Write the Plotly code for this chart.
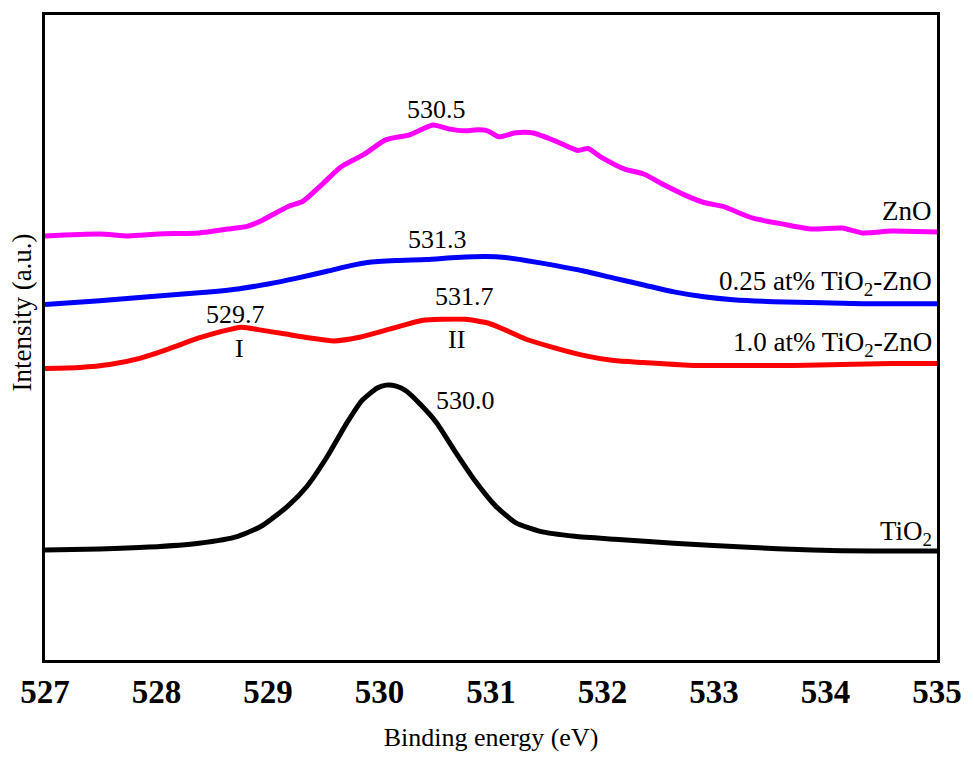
import plotly.graph_objects as go

# O 1s XPS spectra (binding energy in eV, intensity in arbitrary units)
zno_energy = [527.00, 527.49, 527.75, 528.02, 528.38, 528.64, 528.82, 528.95, 529.18, 529.31,
              529.49, 529.65, 529.86, 530.06, 530.27, 530.48, 530.62, 530.77, 530.88, 530.97,
              531.07, 531.22, 531.37, 531.57, 531.78, 531.87, 531.99, 532.20, 532.37, 532.55,
              532.73, 532.91, 533.08, 533.35, 533.62, 533.88, 534.15, 534.33, 534.59, 535.00]
zno_intensity = [432, 434, 432, 434, 435, 439, 442, 448, 462, 467,
                 485, 502, 515, 530, 535, 545, 541, 539, 540, 539,
                 533, 537, 537, 529, 519, 521, 512, 500, 495, 484,
                 474, 466, 462, 450, 444, 439, 440, 435, 437, 436]

tz025_energy = [527.00, 527.49, 527.93, 528.38, 528.73, 529.00, 529.26, 529.53, 529.75, 529.89,
                530.15, 530.42, 530.69, 530.95, 531.13, 531.31, 531.57, 531.84, 532.10, 532.37,
                532.64, 532.91, 533.17, 533.53, 533.97, 534.33, 535.00]
tz025_intensity = [362, 366, 370, 374, 378, 383, 389, 396, 402, 405,
                   407, 408, 410, 411, 410, 407, 402, 396, 389, 382,
                   375, 370, 367, 365, 364, 363, 363]

tz10_energy = [527.00, 527.31, 527.58, 527.84, 528.11, 528.38, 528.56, 528.76, 528.94, 529.16,
               529.38, 529.59, 529.83, 530.09, 530.39, 530.57, 530.77, 530.98, 531.13, 531.31,
               531.57, 531.84, 532.10, 532.37, 532.82, 533.26, 533.71, 534.15, 534.59, 535.00]
tz10_intensity = [297, 298, 301, 307, 317, 328, 334, 339, 336, 332,
                  328, 325, 329, 337, 346, 347, 347, 343, 336, 327,
                  318, 310, 305, 303, 300, 300, 300, 301, 302, 302]

tio2_energy = [527.00, 527.49, 527.93, 528.38, 528.73, 528.95, 529.18, 529.35, 529.53, 529.71,
               529.84, 529.98, 530.06, 530.15, 530.24, 530.37, 530.51, 530.68, 530.86, 531.04,
               531.22, 531.44, 531.75, 532.11, 532.64, 533.26, 533.88, 534.41, 535.00]
tio2_intensity = [112, 113, 115, 119, 126, 137, 157, 177, 207, 242,
                  264, 277, 280, 279, 274, 260, 242, 212, 182, 157,
                  140, 131, 126, 123, 119, 115, 112, 111, 111]

x_ticks = [527, 528, 529, 530, 531, 532, 533, 534, 535]

# Peak labels: (text, energy, intensity)
peak_labels = [("530.5", 530.51, 561), ("531.3", 530.52, 428), ("529.7", 528.71, 352),
               ("I", 528.74, 317), ("531.7", 530.76, 370), ("II", 530.69, 326),
               ("530.0", 530.77, 264)]
# Sample labels at the right edge: (text, intensity)
sample_labels = [("ZnO", 457), ("0.25 at% TiO<sub>2</sub>-ZnO", 384),
                 ("1.0 at% TiO<sub>2</sub>-ZnO", 322), ("TiO<sub>2</sub>", 129)]

SERIF = "Liberation Serif"

fig = go.Figure()
series = [(zno_energy, zno_intensity, "#FF00FF", "ZnO"),
          (tz025_energy, tz025_intensity, "#0000FF", "0.25 at% TiO2-ZnO"),
          (tz10_energy, tz10_intensity, "#FF0000", "1.0 at% TiO2-ZnO"),
          (tio2_energy, tio2_intensity, "#000000", "TiO2")]
for xs, ys, color, name in series:
    fig.add_trace(go.Scatter(x=xs, y=ys, mode="lines", name=name,
                             line=dict(color=color, width=5, shape="spline", smoothing=0.6),
                             showlegend=False))

for text, ex, iy in peak_labels:
    fig.add_annotation(x=ex, y=iy, text=text, showarrow=False,
                       font=dict(family=SERIF, size=26, color="black"))
for text, iy in sample_labels:
    fig.add_annotation(x=535.0, y=iy, text=text, showarrow=False, xanchor="right",
                       xshift=-3, font=dict(family=SERIF, size=27, color="black"))

fig.add_annotation(xref="paper", yref="paper", x=-0.0255, y=0.539,
                   xanchor="center", yanchor="middle",
                   text="Intensity (a.u.)", textangle=-90, showarrow=False,
                   font=dict(family=SERIF, size=27, color="black"))

fig.update_layout(
    width=974, height=760,
    margin=dict(l=45, r=28, t=15, b=88),
    paper_bgcolor="white", plot_bgcolor="white",
    xaxis=dict(range=[527, 535], tickvals=x_ticks,
               ticktext=[str(t) for t in x_ticks],
               tickfont=dict(family=SERIF, size=33, color="black", weight="bold"),
               showline=True, linecolor="black", linewidth=3, mirror=True,
               showgrid=False, zeroline=False, ticks="",
               title=dict(text="Binding energy (eV)", standoff=20,
                          font=dict(family=SERIF, size=26, color="black"))),
    yaxis=dict(range=[0, 657], showticklabels=False, ticks="",
               showline=True, linecolor="black", linewidth=3, mirror=True,
               showgrid=False, zeroline=False),
)

fig.write_html("out.html")
